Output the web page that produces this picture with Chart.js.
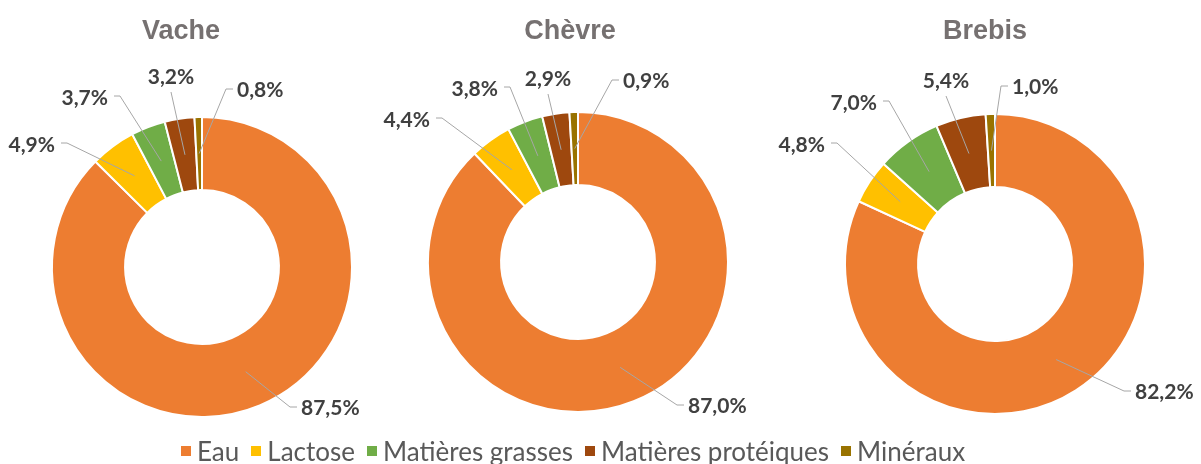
<!DOCTYPE html>
<html>
<head>
<meta charset="utf-8">
<script src="https://cdn.jsdelivr.net/npm/chart.js@4/dist/chart.umd.min.js"></script>
<style>
    html, body { margin: 0; padding: 0; background: #fff; }
    #wrap { position: relative; width: 1201px; height: 464px; overflow: hidden; }
    #wrap canvas { position: absolute; top: 0; }
    #legend {
        position: absolute; left: 181px; top: 436px;
        display: flex; white-space: nowrap;
        font-family: Lato, sans-serif; font-size: 26px; line-height: 30px; color: #595959;
    }
    #legend span.item { display: flex; align-items: center; margin-right: 12px; }
    #legend span.box { width: 10px; height: 10px; margin-right: 6px; }
</style>
</head>
<body>
<div id="wrap">
    <canvas id="pieVache" width="460" height="464"></canvas>
    <canvas id="pieChevre" width="460" height="464"></canvas>
    <canvas id="pieBrebis" width="460" height="464"></canvas>
    <div id="legend"></div>
</div>
<script>
// DATA
const categories = ['Eau', 'Lactose', 'Matières grasses', 'Matières protéiques', 'Minéraux'];
const animals = ['Vache', 'Chèvre', 'Brebis'];
const vacheValues = [87.5, 4.9, 3.7, 3.2, 0.8];
const chevreValues = [87.0, 4.4, 3.8, 2.9, 0.9];
const brebisValues = [82.2, 4.8, 7.0, 5.4, 1.0];

const colors = ['#ED7D31', '#FFC000', '#70AD47', '#9E480E', '#997300'];

// where each percentage label sits, relative to the doughnut centre
// side: 'left' = text starts at x, 'right' = text ends at x, 'top' = text centred above
const vacheSpots = [
    { dx: 99, dy: 141, side: 'left' },
    { dx: -147, dy: -122, side: 'right' },
    { dx: -94, dy: -169, side: 'right' },
    { dx: -31, dy: -190, side: 'top' },
    { dx: 35, dy: -177, side: 'left' },
];
const chevreSpots = [
    { dx: 110, dy: 144, side: 'left' },
    { dx: -148, dy: -142, side: 'right' },
    { dx: -80, dy: -173, side: 'right' },
    { dx: -30, dy: -183, side: 'top' },
    { dx: 45, dy: -181, side: 'left' },
];
const brebisSpots = [
    { dx: 140, dy: 128, side: 'left' },
    { dx: -170, dy: -119, side: 'right' },
    { dx: -118, dy: -161, side: 'right' },
    { dx: -49, dy: -183, side: 'top' },
    { dx: 17, dy: -177, side: 'left' },
];

function fmtPct(v) {
    return v.toFixed(1).replace('.', ',') + '%';
}

// labels with leader lines + title, drawn on top of the arcs
const sliceLabels = {
    id: 'sliceLabels',
    afterDatasetsDraw(chart, args, opts) {
        const ctx = chart.ctx;
        const meta = chart.getDatasetMeta(0);
        const values = chart.data.datasets[0].data;
        ctx.save();
        ctx.font = 'bold 21px Lato';
        ctx.textBaseline = 'middle';
        meta.data.forEach((arc, i) => {
            const a = arc.tooltipPosition();
            const cx = arc.x, cy = arc.y;
            const s = opts.spots[i];
            const tx = cx + s.dx, ty = cy + s.dy;
            ctx.strokeStyle = '#A6A6A6';
            ctx.lineWidth = 1;
            ctx.beginPath();
            ctx.moveTo(a.x, a.y);
            if (s.side == 'left') {
                ctx.lineTo(tx - 11, ty - 1);
                ctx.lineTo(tx - 4, ty - 1);
                ctx.textAlign = 'left';
            } else if (s.side == 'right') {
                ctx.lineTo(tx + 12, ty - 2);
                ctx.lineTo(tx + 6, ty - 2);
                ctx.textAlign = 'right';
            } else {
                ctx.lineTo(tx, ty + 15);
                ctx.textAlign = 'center';
            }
            ctx.stroke();
            ctx.fillStyle = '#404040';
            ctx.fillText(fmtPct(values[i]), tx, ty);
        });

        // title
        const c = meta.data[0];
        ctx.font = 'bold 27px "Liberation Sans"';
        ctx.fillStyle = '#767171';
        ctx.textAlign = 'center';
        ctx.textBaseline = 'alphabetic';
        ctx.fillText(opts.title, c.x + opts.titleShift, 38.5);
        ctx.restore();
    }
};

function makeDoughnut(id, centerX, padTop, title, titleShift, values, spots) {
    const el = document.getElementById(id);
    el.style.left = (centerX - 230) + 'px';
    return new Chart(el.getContext('2d'), {
        type: 'doughnut',
        data: {
            labels: categories,
            datasets: [{
                data: values,
                backgroundColor: colors,
                borderColor: '#ffffff',
                borderWidth: 2,
            }]
        },
        options: {
            responsive: false,
            animation: false,
            radius: 150,
            cutout: '51.3%',
            layout: { padding: { top: padTop, bottom: 0, left: 0, right: 0 } },
            plugins: {
                legend: { display: false },
                tooltip: { enabled: false },
                sliceLabels: { spots: spots, title: title, titleShift: titleShift },
            },
        },
        plugins: [sliceLabels],
    });
}

makeDoughnut('pieVache', 202, 70, animals[0], -21, vacheValues, vacheSpots);
makeDoughnut('pieChevre', 578, 60, animals[1], -8, chevreValues, chevreSpots);
makeDoughnut('pieBrebis', 995, 64, animals[2], -10, brebisValues, brebisSpots);

// shared legend
const legendEl = document.getElementById('legend');
categories.forEach((name, i) => {
    const item = document.createElement('span');
    item.className = 'item';
    const box = document.createElement('span');
    box.className = 'box';
    box.style.background = colors[i];
    item.appendChild(box);
    item.appendChild(document.createTextNode(name));
    legendEl.appendChild(item);
});
</script>
</body>
</html>
